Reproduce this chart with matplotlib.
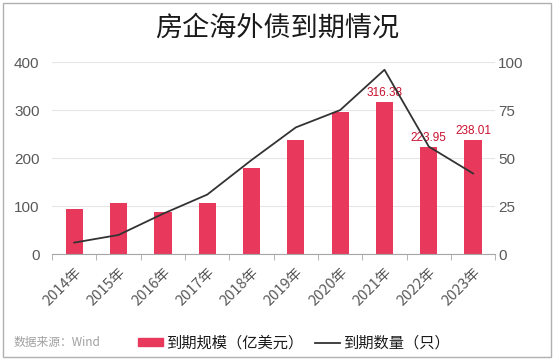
import matplotlib
matplotlib.use("Agg")
import matplotlib.pyplot as plt
from matplotlib.patches import Rectangle
from matplotlib.lines import Line2D
import numpy as np

plt.rcParams['font.family'] = ['Noto Sans CJK SC', 'DejaVu Sans']

# data
years = ['2014年', '2015年', '2016年', '2017年', '2018年',
         '2019年', '2020年', '2021年', '2022年', '2023年']
scale = [93, 106, 87, 106, 180, 237, 296, 316.38, 223.95, 238.01]   # 亿美元
count = [6, 10, 21, 31, 49, 66, 75, 96, 56, 42]                     # 只
labelled = {7: '316.38', 8: '223.95', 9: '238.01'}

bar_col = '#e8385c'
txt_col = '#595959'

fig = plt.figure(figsize=(5.54, 3.61), dpi=100)
fig.patches.append(Rectangle((0.006, 0.01), 0.988, 0.982, transform=fig.transFigure,
                             fill=False, edgecolor='#b0b0b0', linewidth=1.0))

ax = fig.add_axes([0.094, 0.296, 0.8, 0.532])
x = np.arange(len(years))
ax.bar(x, scale, width=0.39, color=bar_col, zorder=2)
for i, s in labelled.items():
    ax.text(x[i], scale[i] + 6, s, ha='center', va='bottom', fontsize=8.5,
            color='#c8102e', family=['Liberation Sans'], zorder=4)

ax.set_xlim(-0.5, len(years) - 0.5)
ax.set_ylim(0, 400)
ax.set_yticks([0, 100, 200, 300, 400])
ax.grid(axis='y', color='#e6e6e6', linewidth=0.8, zorder=0)
ax.set_axisbelow(True)
for side in ['top', 'left', 'right']:
    ax.spines[side].set_visible(False)
ax.spines['bottom'].set_color('#a6a6a6')
ax.set_xticks(x)
ax.set_xticklabels(years, rotation=45, ha='right', rotation_mode='anchor', fontsize=10.5, color=txt_col)
ax.set_xticks(np.arange(-0.5, len(years)), minor=True)
ax.tick_params(axis='x', which='major', length=0, pad=8)
ax.tick_params(axis='x', which='minor', length=4, color='#a6a6a6', direction='out')
ax.tick_params(axis='y', length=0, labelsize=11, labelcolor=txt_col, pad=9)
for t in ax.get_yticklabels():
    t.set_family(['Liberation Sans'])

ax2 = ax.twinx()
ax2.plot(x, count, color='#333333', linewidth=1.3, zorder=3)
ax2.set_ylim(0, 100)
ax2.set_yticks([0, 25, 50, 75, 100])
for side in ['top', 'left', 'right', 'bottom']:
    ax2.spines[side].set_visible(False)
ax2.tick_params(axis='y', length=0, labelsize=11, labelcolor=txt_col, pad=2)
for t in ax2.get_yticklabels():
    t.set_family(['Liberation Sans'])

fig.text(0.5, 0.922, '房企海外债到期情况', ha='center', va='center', fontsize=19.5, color='#1a1a1a')
fig.text(0.025, 0.05, '数据来源：Wind', ha='left', va='center', fontsize=8.5, color='#a0a0a0')

handles = [Rectangle((0, 0), 1, 1, color=bar_col),
           Line2D([0], [0], color='#333333', linewidth=1.3)]
fig.legend(handles, ['到期规模（亿美元）', '到期数量（只）'], loc='center left',
           bbox_to_anchor=(0.225, 0.05), ncol=2, frameon=False, fontsize=11,
           handlelength=1.6, handleheight=0.5, handletextpad=0.2, columnspacing=0.8,
           labelcolor='#1a1a1a')

fig.savefig('out.png', dpi=100)
